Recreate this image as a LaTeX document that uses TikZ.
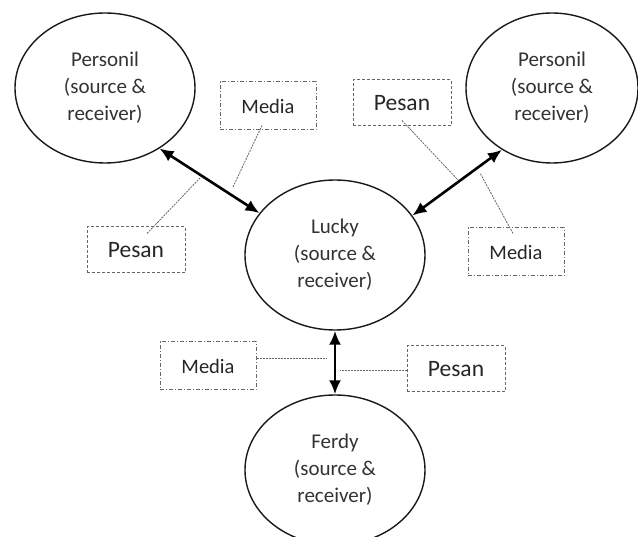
\documentclass[tikz,border=0pt]{standalone}
\usepackage{fontspec}
\setmainfont{Carlito}
\usetikzlibrary{shapes.geometric,arrows.meta,calc}
\begin{document}
\begin{tikzpicture}[x=1pt,y=-1pt,
  person/.style={ellipse,draw=black!90,line width=1.4pt,minimum width=#1,minimum height=150pt,inner sep=0pt,align=center,
    font=\fontsize{21}{27}\selectfont,text=black!80},
  person/.default=180pt,
  pesanbox/.style={draw=black!60,line width=1pt,dash pattern=on 3pt off 2pt,minimum width=98pt,minimum height=46pt,inner sep=0pt,
    font=\fontsize{23.5}{26}\selectfont,text=black!85},
  mediabox/.style={draw=black!60,line width=1pt,dash pattern=on 4pt off 2pt on 1pt off 2pt,minimum width=96pt,minimum height=48pt,inner sep=0pt,
    font=\fontsize{20.5}{24}\selectfont,text=black!85},
  thinline/.style={draw=black!60,line width=0.8pt,dash pattern=on 2pt off 1pt},
  biarrow/.style={line width=2.6pt,{Latex[length=14pt,width=12pt]}-{Latex[length=14pt,width=12pt]}}]
\useasboundingbox (0,0) rectangle (638,537);
\clip (0,0) rectangle (638,537);
\fill[white] (0,0) rectangle (638,537);
% ellipses
\node[person=180pt] (tl) at (105,88) {Personil\\(source \&\\receiver)};
\node[person=172pt] (tr) at (552,88) {Personil\\(source \&\\receiver)};
\node[person=180pt] (lucky) at (335,255) {Lucky\\(source \&\\receiver)};
\node[person=180pt] (ferdy) at (335,470) {Ferdy\\(source \&\\receiver)};
% boxes
\node[mediabox] (m1) at (268,106) {Media};
\node[pesanbox] (p1) at (136,250) {Pesan};
\node[pesanbox] (p2) at (402,103) {Pesan};
\node[mediabox] (m2) at (516,252) {Media};
\node[mediabox] (m3) at (208,366) {Media};
\node[pesanbox] (p3) at (456,369) {Pesan};
% arrows
\draw[biarrow] (tl.-48) -- (lucky.151);
\draw[biarrow] (lucky.27) -- (tr.231);
\draw[biarrow] (lucky.south) -- (ferdy.north);
% thin connectors
\coordinate (c1) at (233,187);
\coordinate (c2) at (200,178);
\coordinate (c3) at (458,180);
\coordinate (c4) at (480,173);
\coordinate (c5) at (327,358);
\coordinate (c6) at (340,370);
\draw[thinline] ([xshift=-6pt,yshift=5pt]m1.south) -- (c1);
\draw[thinline] ([xshift=11pt,yshift=-7pt]p1.north) -- (c2);
\draw[thinline] ([yshift=6pt]p2.south) -- (c3);
\draw[thinline] ([xshift=-3pt,yshift=-6pt]m2.north) -- (c4);
\draw[thinline] (m3.east |- c5) -- (c5);
\draw[thinline] (p3.west |- c6) -- (c6);
\end{tikzpicture}
\end{document}
